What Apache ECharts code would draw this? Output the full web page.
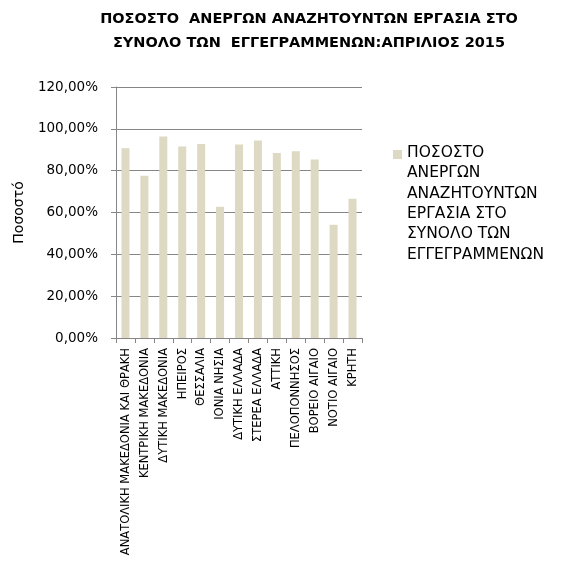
<!DOCTYPE html>
<html>
<head>
<meta charset="utf-8">
<script src="https://cdn.jsdelivr.net/npm/echarts@6/dist/echarts.min.js"></script>
<style>
  html, body { margin: 0; padding: 0; background: #fff; }
  #chart { width: 568px; height: 564px; }
</style>
</head>
<body>
<div id="chart"></div>
<script>
// regions (categories)
const regions = [
  'ΑΝΑΤΟΛΙΚΗ ΜΑΚΕΔΟΝΙΑ ΚΑΙ ΘΡΑΚΗ',
  'ΚΕΝΤΡΙΚΗ ΜΑΚΕΔΟΝΙΑ',
  'ΔΥΤΙΚΗ ΜΑΚΕΔΟΝΙΑ',
  'ΗΠΕΙΡΟΣ',
  'ΘΕΣΣΑΛΙΑ',
  'ΙΟΝΙΑ ΝΗΣΙΑ',
  'ΔΥΤΙΚΗ ΕΛΛΑΔΑ',
  'ΣΤΕΡΕΑ ΕΛΛΑΔΑ',
  'ΑΤΤΙΚΗ',
  'ΠΕΛΟΠΟΝΝΗΣΟΣ',
  'ΒΟΡΕΙΟ ΑΙΓΑΙΟ',
  'ΝΟΤΙΟ ΑΙΓΑΙΟ',
  'ΚΡΗΤΗ'
];
// percent values
const pct = [90.7, 77.6, 96.3, 91.5, 92.8, 62.7, 92.5, 94.4, 88.5, 89.3, 85.3, 54.1, 66.6];
const seriesName = 'ΠΟΣΟΣΤΟ\nΑΝΕΡΓΩΝ\nΑΝΑΖΗΤΟΥΝΤΩΝ\nΕΡΓΑΣΙΑ ΣΤΟ\nΣΥΝΟΛΟ ΤΩΝ\nΕΓΓΕΓΡΑΜΜΕΝΩΝ';

const chart = echarts.init(document.getElementById('chart'));
chart.setOption({
  animation: false,
  textStyle: { fontFamily: 'DejaVu Sans' },
  title: {
    text: 'ΠΟΣΟΣΤΟ  ΑΝΕΡΓΩΝ ΑΝΑΖΗΤΟΥΝΤΩΝ ΕΡΓΑΣΙΑ ΣΤΟ\nΣΥΝΟΛΟ ΤΩΝ  ΕΓΓΕΓΡΑΜΜΕΝΩΝ:ΑΠΡΙΛΙΟΣ 2015',
    left: 304,
    textAlign: 'center',
    top: 2,
    textStyle: {
      fontFamily: 'DejaVu Sans',
      fontSize: 14.5,
      fontWeight: 'bold',
      color: '#000',
      lineHeight: 24
    }
  },
  legend: {
    data: [seriesName],
    orient: 'vertical',
    left: 388,
    top: 138,
    // square at the top of a tall invisible box so it sits by the first text line
    icon: 'path://M0,0H1V1H0Z M0,11.9999H0.0001V12H0Z',
    itemWidth: 9,
    itemHeight: 108,
    itemGap: 0,
    textStyle: {
      fontFamily: 'DejaVu Sans',
      fontSize: 15.5,
      color: '#000',
      lineHeight: 20.3
    }
  },
  grid: { left: 116, right: 206, top: 87, bottom: 226 },
  xAxis: {
    type: 'category',
    data: regions,
    axisLine: { lineStyle: { color: '#868686' } },
    axisTick: { show: true, length: 5, lineStyle: { color: '#868686' } },
    axisLabel: {
      rotate: 90,
      interval: 0,
      margin: 10,
      fontFamily: "'DejaVu Sans Condensed', 'Liberation Sans'",
      fontSize: 12.8,
      color: '#000'
    }
  },
  yAxis: {
    type: 'value',
    min: 0,
    max: 120,
    interval: 20,
    name: 'Ποσοστό',
    nameLocation: 'middle',
    nameGap: 90,
    nameTextStyle: { fontFamily: 'DejaVu Sans', fontSize: 14, color: '#000' },
    axisLine: { show: true, lineStyle: { color: '#868686' } },
    axisTick: { show: true, length: 5, lineStyle: { color: '#868686' } },
    splitLine: { lineStyle: { color: '#868686' } },
    axisLabel: {
      margin: 18,
      fontFamily: 'DejaVu Sans',
      fontSize: 13.5,
      color: '#000',
      formatter: v => v.toFixed(2).replace('.', ',') + '%'
    }
  },
  series: [{
    name: seriesName,
    type: 'bar',
    data: pct,
    barWidth: 8,
    itemStyle: { color: '#DDD9C3' }
  }]
});
</script>
</body>
</html>
